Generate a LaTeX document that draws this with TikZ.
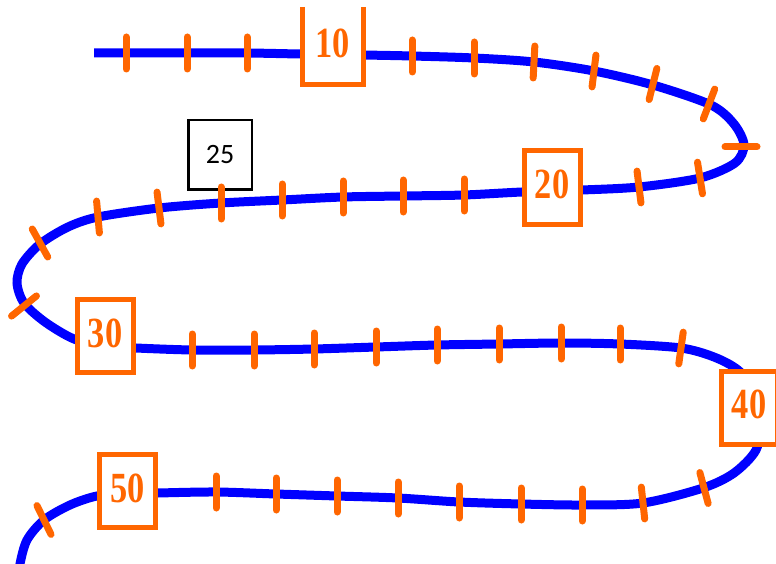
\documentclass[tikz,border=0pt]{standalone}
\usepackage{fontspec}
\usepackage{graphicx}
\setmainfont{Liberation Serif}
\newfontfamily\calfont{Carlito}
\usetikzlibrary{backgrounds}
\definecolor{trackblue}{RGB}{0,0,255}
\definecolor{markorange}{RGB}{255,102,0}
\tikzset{track/.style={draw=trackblue, line width=9pt}}
\tikzset{tickmark/.style={draw=markorange, line width=7pt, line cap=round}}
\tikzset{numbox/.style={draw=markorange, fill=white, line width=5pt, minimum width=56pt, minimum height=73pt, inner sep=0pt, text depth=6pt, text=markorange, font=\bfseries\fontsize{43}{43}\selectfont}}
\tikzset{guessbox/.style={draw=black, fill=white, line width=2.5pt, minimum width=63.5pt, minimum height=69.5pt, inner sep=0pt, font=\calfont\fontsize{28}{28}\selectfont}}
\newcommand{\num}[1]{\scalebox{0.8}[1]{#1}}

\begin{document}
\begin{tikzpicture}[x=1pt, y=-1pt]
\useasboundingbox (0,0) rectangle (776,564);
\clip (0,0) rectangle (776,564);

% number boxes
\node[numbox, draw=none] (n10) at (332.5,46) {\num{10}};
\draw[markorange, line width=5pt] (n10.north west) -- (n10.south west) -- (n10.south east) -- (n10.north east);
\node[numbox] (n20) at (552,187.5) {\num{20}};
\node[numbox] (n30) at (105,336) {\num{30}};
\node[numbox] (n40) at (749,407.5) {\num{40}};
\node[numbox] (n50) at (127.5,491) {\num{50}};
\node[guessbox] (n25) at (220,155) {25};

% the winding track
\begin{pgfonlayer}{background}
\draw[track] plot[smooth] coordinates {(94,53) (126,53) (187,53) (247,53) (300,54) (363,55) (412,56) (474,58) (534,62) (594,71) (653,85) (711,105) (734,124) (744,145) (735,163) (700,178) (639,187) (582,190) (522,192) (464,195) (403,196) (343,197) (282,200) (221,203) (159,208) (98,217) (68,227) (40,244) (22,264) (17,283) (24,303) (45,322) (74,339) (105,346) (136,348) (192,350) (254,350) (314,349) (376,347) (437,345) (499,344) (561,343) (620,344) (681,348) (714,357) (738,370) (756,392) (761,420) (756,450) (734,473) (703,488) (643,503) (582,505) (521,504) (459,502) (398,498) (337,496) (276,494) (216,492) (158,493) (127,494) (97,496) (70,505) (44,520) (27,540) (20,564) (19,580)};
\end{pgfonlayer}

% tick marks: x/y/direction of upper end
\foreach \x/\y/\a in {126/53/-90, 187/53/-90, 247/53/-90, 412/56/-90, 474/58/-90, 534/62/-87, 594/71/-83, 653/84/-76, 709/104/-69, 741/147/0,
  700/178/-99, 639/187/-97, 464/195/-90, 403/196/-90, 343/197/-90, 282/200/-90, 221/203/-90, 159/208/-97, 98/217/-95, 40/243/-119, 24/306/-39,
  192/350/-90, 254/350/-90, 314/349/-90, 376/347/-90, 437/345/-90, 499/344/-90, 561/343/-90, 620/344/-90, 681/348/-82,
  704/488/-105, 643/503/-96, 582/505/-90, 521/504/-90, 459/502/-90, 398/498/-90, 337/496/-90, 276/494/-90, 216/492/-90, 44/520/-116}
  \draw[tickmark] (\x,\y) ++(\a:16) -- ++(\a:-32);
\end{tikzpicture}
\end{document}
